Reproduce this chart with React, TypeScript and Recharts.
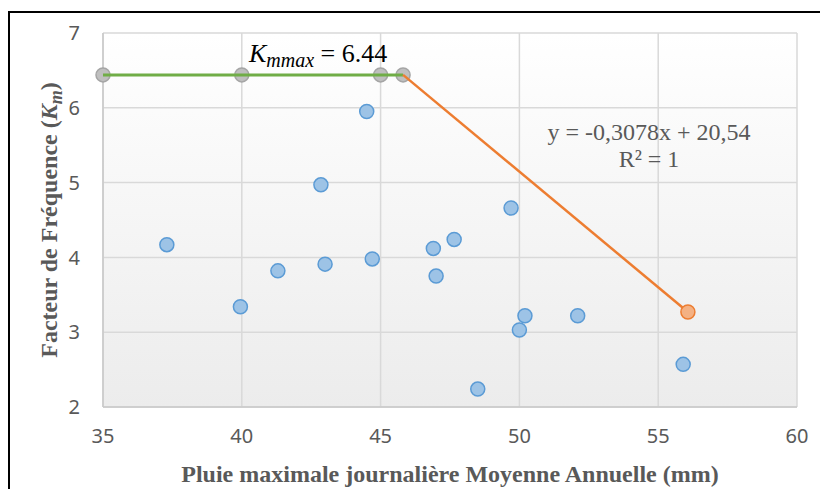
import { CartesianGrid, ReferenceDot, Scatter, ScatterChart, XAxis, YAxis } from "recharts";

const GRID = "#d9d9d9";
const TEXT = "#595959";
const SERIF = "'Liberation Serif', 'Times New Roman', serif";

// observed stations: rainfall (mm) vs frequency factor
const rainX = [37.3, 39.95, 41.3, 42.85, 43.0, 44.5, 44.7, 46.9, 47.0, 47.65, 48.5, 49.7, 50.0, 50.2, 52.1, 55.9];
const kmY = [4.17, 3.34, 3.82, 4.97, 3.91, 5.95, 3.98, 4.12, 3.75, 4.24, 2.24, 4.66, 3.03, 3.22, 3.22, 2.57];

// K_mmax plateau
const plateauX = [35, 40, 45, 45.81];
const plateauY = [6.44, 6.44, 6.44, 6.44];

// decreasing branch
const slopeX = [45.81, 56.07];
const slopeY = [6.44, 3.27];

const xTicks = [35, 40, 45, 50, 55, 60];
const yTicks = [2, 3, 4, 5, 6, 7];

const points = rainX.map((x, i) => ({ x, y: kmY[i] }));
const plateau = plateauX.map((x, i) => ({ x, y: plateauY[i] }));
const slope = slopeX.map((x, i) => ({ x, y: slopeY[i] }));

function dot(fill: string, stroke: string) {
  return (p: any) => <circle cx={p.cx} cy={p.cy} r={7} fill={fill} stroke={stroke} strokeWidth={1.5} />;
}

const noDot = () => <g />;

export default function App() {
  return (
    <div style={{ position: "absolute", left: 0, top: 0, width: 820, height: 489, background: "#fff", overflow: "hidden" }}>
      <div style={{ position: "absolute", left: 8, top: 11, width: 900, height: 600, border: "2px solid #000" }} />
      <div style={{ position: "absolute", left: 0, top: 0 }}>
        <ScatterChart width={820} height={489} margin={{ top: 33, right: 23, left: 43, bottom: 52 }}>
          <defs>
            <linearGradient id="plotBg" x1="0" y1="0" x2="0" y2="1">
              <stop offset="0%" stopColor="#ffffff" />
              <stop offset="100%" stopColor="#ececec" />
            </linearGradient>
          </defs>
          <CartesianGrid stroke={GRID} strokeWidth={1.5} fill="url(#plotBg)" fillOpacity={1} />
          <XAxis
            type="number"
            dataKey="x"
            domain={[35, 60]}
            ticks={xTicks}
            height={30}
            tickSize={0}
            tickMargin={22}
            axisLine={{ stroke: "#c8c8c8", strokeWidth: 1.5 }}
            tick={{ fontSize: 20, fill: TEXT, fontFamily: "'Noto Sans', sans-serif" }}
            label={() => (
              <text x={450} y={482} textAnchor="middle" fontFamily={SERIF} fontWeight="bold" fontSize={24} fill={TEXT}>
                Pluie maximale journalière Moyenne Annuelle (mm)
              </text>
            )}
          />
          <YAxis
            type="number"
            dataKey="y"
            domain={[2, 7]}
            ticks={yTicks}
            width={60}
            tickSize={0}
            tickMargin={23}
            axisLine={{ stroke: "#c8c8c8", strokeWidth: 1.5 }}
            tick={{ fontSize: 20, fill: TEXT, fontFamily: "'Noto Sans', sans-serif" }}
            label={() => (
              <text
                x={57}
                y={220}
                transform="rotate(-90 57 220)"
                textAnchor="middle"
                fontFamily={SERIF}
                fontWeight="bold"
                fontSize={24}
                fill={TEXT}
              >
                Facteur de Fréquence (<tspan fontStyle="italic">K</tspan>
                <tspan fontStyle="italic" fontSize={18} dy={5}>m</tspan>
                <tspan dy={-5}>)</tspan>
              </text>
            )}
          />
          <Scatter data={points} shape={dot("#9dc3e6", "#5b9bd5")} isAnimationActive={false} />
          <Scatter data={plateau} shape={dot("#bfbfbf", "#a5a5a5")} isAnimationActive={false} />
          <Scatter
            data={plateau}
            shape={noDot}
            line={{ stroke: "#70ad47", strokeWidth: 3 }}
            lineType="joint"
            isAnimationActive={false}
          />
          <Scatter
            data={slope}
            shape={(p: any) => (p.index === 1 ? dot("#f4b183", "#ed7d31")(p) : <g />)}
            line={{ stroke: "#ed7d31", strokeWidth: 2.5 }}
            lineType="joint"
            isAnimationActive={false}
          />
          <ReferenceDot
            x={40}
            y={6.44}
            r={0}
            fill="none"
            stroke="none"
            label={() => (
              <text x={249} y={62} fontFamily={SERIF} fontSize={26} fill="#000">
                <tspan fontStyle="italic">K</tspan>
                <tspan fontStyle="italic" fontSize={20} dy={5}>mmax</tspan>
                <tspan dy={-5}> = 6.44</tspan>
              </text>
            )}
          />
          <ReferenceDot
            x={55}
            y={5.5}
            r={0}
            fill="none"
            stroke="none"
            label={() => (
              <text textAnchor="middle" fontFamily={SERIF} fontSize={24} fill={TEXT}>
                <tspan x={649} y={140}>y = -0,3078x + 20,54</tspan>
                <tspan x={649} y={167}>R² = 1</tspan>
              </text>
            )}
          />
        </ScatterChart>
      </div>
    </div>
  );
}
